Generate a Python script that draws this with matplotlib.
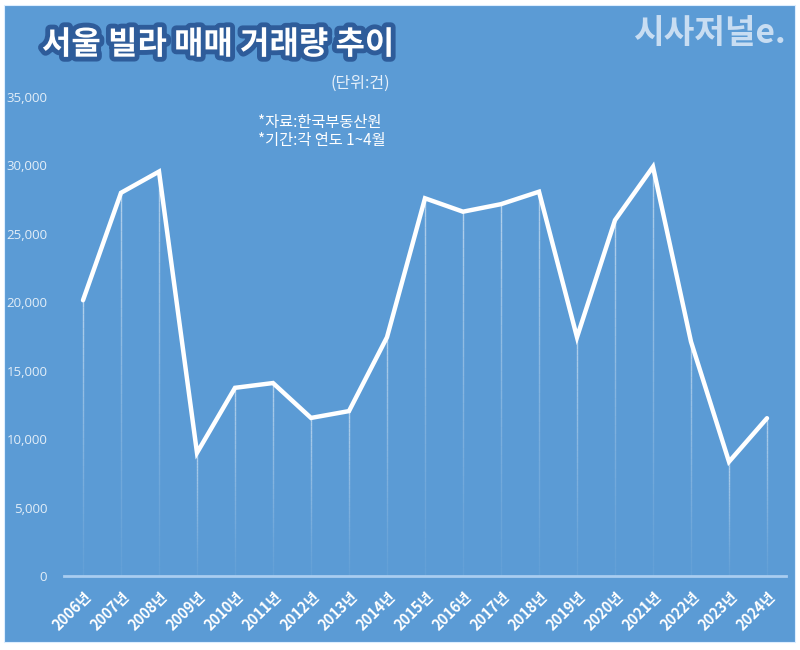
import matplotlib
matplotlib.use("Agg")
import matplotlib.pyplot as plt
import matplotlib.patheffects as pe
from matplotlib.patches import Rectangle
from matplotlib.collections import LineCollection
import numpy as np

plt.rcParams['font.family'] = ['Noto Sans CJK KR', 'DejaVu Sans']

years = ["2006년", "2007년", "2008년", "2009년", "2010년", "2011년", "2012년", "2013년",
         "2014년", "2015년", "2016년", "2017년", "2018년", "2019년", "2020년", "2021년",
         "2022년", "2023년", "2024년"]
volumes = [20150, 28000, 29550, 9000, 13750, 14100, 11550, 12050, 17450, 27600,
           26620, 27170, 28080, 17450, 26000, 29900, 17120, 8350, 11530]
yticks = [0, 5000, 10000, 15000, 20000, 25000, 30000, 35000]

title = "서울 빌라 매매 거래량 추이"
unit = "(단위:건)"
note1 = "*자료:한국부동산원"
note2 = "*기간:각 연도 1~4월"
logo = "시사저널e."

BG = "#5B9BD5"
W, H = 800, 650
fig = plt.figure(figsize=(8, 6.5), dpi=100)
fig.patch.set_facecolor("white")
fig.patches.append(Rectangle((4 / W, 1 - 642 / H), 791 / W, 637 / H,
                             transform=fig.transFigure, facecolor=BG,
                             edgecolor="#DDEEFF", linewidth=0.8, zorder=-10))

ax = fig.add_axes([64 / W, 1 - 576 / H, (786 - 64) / W, (576 - 97) / H])
ax.set_zorder(5)
ax.set_facecolor("none")
x = np.arange(len(years))

# drop lines with fading alpha
segs, cols = [], []
n = 40
for xi, v in zip(x, volumes):
    edges = np.linspace(0, v, n + 1)
    for k in range(n):
        segs.append([(xi, edges[k]), (xi, edges[k + 1])])
        a = 0.05 + 0.5 * (k / n) ** 1.2
        cols.append((1, 1, 1, a))
ax.add_collection(LineCollection(segs, colors=cols, linewidths=1.0, zorder=2))

ax.plot(x, volumes, color="white", linewidth=3.2, solid_joinstyle="miter",
        solid_capstyle="round", zorder=3)

ax.set_xlim(-0.5, len(years) - 0.5)
ax.set_ylim(0, 35000)
ax.set_yticks(yticks)
ax.set_yticklabels([f"{t:,}" for t in yticks], color="#E3EEF8", fontsize=9.5,
                   family=['Open Sans', 'DejaVu Sans'])
ax.set_xticks(x)
ax.set_xticklabels(years, rotation=45, ha="right", va="top", rotation_mode="anchor",
                   color="white", fontsize=10.5, fontweight="bold")
ax.tick_params(axis="both", length=0)
ax.tick_params(axis="y", pad=12)
ax.tick_params(axis="x", pad=9)
for s in ["top", "right", "left"]:
    ax.spines[s].set_visible(False)
ax.spines["bottom"].set_color("#A9CDF0")
ax.spines["bottom"].set_linewidth(2)

fig.text(42 / W, 1 - 45 / H, title, fontsize=23, fontweight="bold", color="white",
         va="center", ha="left",
         path_effects=[pe.withStroke(linewidth=7, foreground="#2E5C9A")])
fig.text(390 / W, 1 - 83 / H, unit, fontsize=11.5, color="#E6F0FA", ha="right", va="center")
fig.text(258 / W, 1 - 122 / H, note1, fontsize=11, color="white", ha="left", va="center")
fig.text(258 / W, 1 - 140 / H, note2, fontsize=11, color="white", ha="left", va="center")
fig.text(786 / W, 1 - 33 / H, logo, fontsize=24, fontweight="black", color="#C8DDF2",
         ha="right", va="center")

fig.savefig("out.png", dpi=100, facecolor=fig.get_facecolor())
